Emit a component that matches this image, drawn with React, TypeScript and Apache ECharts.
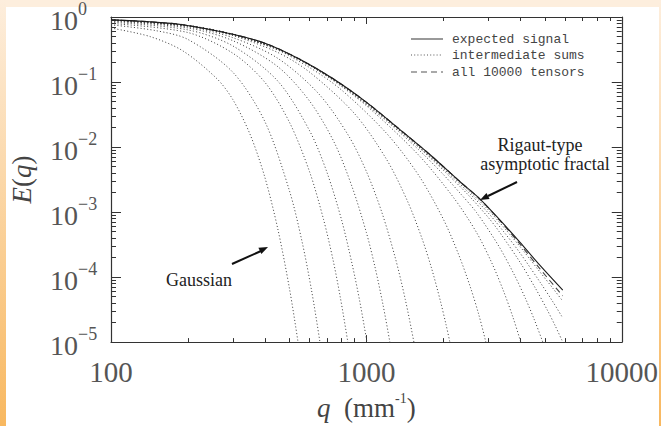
import React, { useEffect, useRef } from "react";
import * as echarts from "echarts";

// ---- data (q in mm^-1, values are log10 E(q)) ----
const qMajorTicks = [100, 1000, 10000];
const qMinorTicks = [200, 300, 400, 500, 600, 700, 800, 900, 2000, 3000, 4000, 5000, 6000, 7000, 8000, 9000];
const eMajorTicks = [1e-5, 1e-4, 1e-3, 1e-2, 1e-1, 1];
const eMinorTicks = [
  2e-5, 3e-5, 4e-5, 5e-5, 6e-5, 7e-5, 8e-5, 9e-5,
  2e-4, 3e-4, 4e-4, 5e-4, 6e-4, 7e-4, 8e-4, 9e-4,
  2e-3, 3e-3, 4e-3, 5e-3, 6e-3, 7e-3, 8e-3, 9e-3,
  2e-2, 3e-2, 4e-2, 5e-2, 6e-2, 7e-2, 8e-2, 9e-2,
  2e-1, 3e-1, 4e-1, 5e-1, 6e-1, 7e-1, 8e-1, 9e-1,
];

const expectedSignal = [
  [100, -0.044], [142, -0.074], [191, -0.118], [300, -0.266], [408, -0.414], [549, -0.651],
  [739, -0.947], [1005, -1.317], [1353, -1.731], [1772, -2.115], [2322, -2.53], [2781, -2.796],
  [3331, -3.121], [3989, -3.462], [4776, -3.817], [5876, -4.201],
];
const allTensors = [
  [100, -0.044], [142, -0.074], [191, -0.118], [300, -0.266], [408, -0.414], [549, -0.651],
  [739, -0.947], [1005, -1.317], [1353, -1.731], [1772, -2.115], [2322, -2.53], [2781, -2.8],
  [3331, -3.13], [3989, -3.49], [4776, -3.87], [5876, -4.29],
];

const partialSum01 = [[100, -0.17], [142, -0.3], [191, -0.52], [260, -0.95], [300, -1.27], [350, -1.8], [400, -2.46], [450, -3.26], [500, -4.18], [540, -5.0], [565, -5.56]];
const partialSum02 = [[100, -0.12], [150, -0.21], [200, -0.345], [300, -0.85], [400, -1.605], [500, -2.675], [560, -3.456], [610, -4.205], [658, -5.0], [690, -5.57]];
const partialSum03 = [[100, -0.1], [200, -0.239], [300, -0.557], [400, -1.002], [500, -1.621], [600, -2.387], [680, -3.117], [740, -3.731], [790, -4.305], [846, -5.0], [880, -5.45]];
const partialSum04 = [[100, -0.08], [200, -0.198], [300, -0.445], [450, -0.986], [600, -1.753], [700, -2.383], [800, -3.124], [880, -3.807], [940, -4.353], [1005, -5.0], [1045, -5.43]];
const partialSum05 = [[100, -0.065], [200, -0.169], [300, -0.364], [450, -0.764], [600, -1.296], [750, -1.937], [880, -2.617], [1000, -3.315], [1080, -3.84], [1160, -4.413], [1236, -5.0], [1290, -5.44]];
const partialSum06 = [[100, -0.055], [200, -0.152], [300, -0.318], [450, -0.636], [650, -1.179], [850, -1.82], [1000, -2.375], [1150, -3.006], [1300, -3.715], [1420, -4.343], [1535, -5.0], [1600, -5.4]];
const partialSum07 = [[100, -0.05], [200, -0.14], [300, -0.286], [450, -0.546], [600, -0.85], [900, -1.489], [1200, -2.191], [1450, -2.835], [1650, -3.403], [1800, -3.865], [1950, -4.371], [2050, -4.729], [2123, -5.0], [2210, -5.34]];
const partialSum08 = [[100, -0.045], [200, -0.136], [400, -0.418], [600, -0.779], [800, -1.124], [1200, -1.79], [1600, -2.431], [2000, -3.107], [2300, -3.658], [2550, -4.147], [2750, -4.566], [2937, -5.0], [3050, -5.28]];
const partialSum09 = [[100, -0.044], [200, -0.134], [300, -0.268], [500, -0.584], [700, -0.911], [1000, -1.364], [1600, -2.122], [2200, -2.783], [2700, -3.314], [3100, -3.784], [3450, -4.223], [3750, -4.619], [4024, -5.0], [4200, -5.255]];
const partialSum10 = [[100, -0.044], [200, -0.133], [300, -0.267], [450, -0.495], [600, -0.745], [800, -1.054], [1200, -1.599], [1600, -2.039], [2000, -2.421], [2322, -2.705], [2700, -3.007], [3300, -3.524], [3800, -3.969], [4200, -4.332], [4550, -4.659], [4907, -5.0], [5150, -5.236]];
const partialSum11 = [[100, -0.044], [200, -0.133], [300, -0.266], [450, -0.493], [600, -0.74], [800, -1.047], [1200, -1.58], [1600, -2.001], [2000, -2.355], [2500, -2.733], [3000, -3.082], [3300, -3.293], [4000, -3.774], [4600, -4.177], [5100, -4.5], [5500, -4.757], [5876, -5.0]];
const partialSum12 = [[100, -0.044], [200, -0.133], [300, -0.266], [450, -0.493], [600, -0.74], [800, -1.045], [1000, -1.319], [1500, -1.9], [2000, -2.33], [2500, -2.69], [3000, -3.013], [3500, -3.333], [4000, -3.632], [4800, -4.085], [5400, -4.393], [5876, -4.63]];
const partialSum13 = [[100, -0.044], [200, -0.133], [300, -0.266], [450, -0.492], [600, -0.739], [800, -1.043], [1000, -1.317], [1500, -1.885], [2000, -2.313], [2500, -2.659], [3000, -2.965], [3500, -3.262], [4000, -3.533], [4800, -3.929], [5400, -4.183], [5876, -4.37]];

const partialSums = [
  partialSum01, partialSum02, partialSum03, partialSum04, partialSum05, partialSum06, partialSum07,
  partialSum08, partialSum09, partialSum10, partialSum11, partialSum12, partialSum13,
];

const legendLabels = ["expected signal", "intermediate sums", "all 10000 tensors"];

const toPoints = (arr: number[][]) => arr.map(([q, l]) => [q, Math.pow(10, l)]);

const SERIF = "'Liberation Serif', 'Times New Roman', serif";

export default function App() {
  const ref = useRef<HTMLDivElement>(null);

  useEffect(() => {
    if (!ref.current) return;
    const chart = echarts.init(ref.current, null, { renderer: "svg" });

    const yLabelFmt = (v: number) => {
      const e = Math.round(Math.log10(v));
      return `{b|10}{e|${e === 0 ? "0" : "\u2212" + -e}}`;
    };
    const yRich = {
      b: { fontFamily: SERIF, fontSize: 28, color: "#555", lineHeight: 34, verticalAlign: "bottom" },
      e: { fontFamily: SERIF, fontSize: 18, color: "#555", lineHeight: 18, verticalAlign: "top" },
    };

    const axisLine = { show: true, lineStyle: { color: "#333", width: 1.2 } };
    const tickStyle = { color: "#333", width: 1 };

    const xBase = { type: "log", logBase: 10, min: 100, max: 10000, gridIndex: 0, splitLine: { show: false }, minorTick: { show: false } };
    const yBase = { type: "log", logBase: 10, min: 1e-5, max: 1, gridIndex: 0, splitLine: { show: false }, minorTick: { show: false } };

    const series: any[] = [];
    partialSums.forEach((d, i) => {
      series.push({
        type: "line",
        name: "sum" + i,
        data: toPoints(d),
        showSymbol: false,
        smooth: 0.3,
        silent: true,
        lineStyle: { color: "#4a4a4a", width: 1, type: [1.1, 2.2] },
        z: 2,
      });
    });
    series.push({
      type: "line",
      name: legendLabels[2],
      data: toPoints(allTensors),
      showSymbol: false,
      smooth: 0.3,
      silent: true,
      lineStyle: { color: "#444", width: 1.1, type: [6, 4] },
      z: 3,
    });
    series.push({
      type: "line",
      name: legendLabels[0],
      data: toPoints(expectedSignal),
      showSymbol: false,
      smooth: 0.3,
      silent: true,
      lineStyle: { color: "#1a1a1a", width: 1.1, type: "solid" },
      z: 4,
    });

    const frameGrad = new echarts.graphic.LinearGradient(0, 0, 0, 1, [
      { offset: 0, color: "#fdeedd" },
      { offset: 1, color: "#f8b860" },
    ]);

    const arrowHead = (pts: number[][]) => ({
      type: "polygon",
      shape: { points: pts },
      style: { fill: "#111" },
      silent: true,
    });

    chart.setOption({
      animation: false,
      backgroundColor: "#ffffff",
      grid: { left: 111, right: 39, top: 14, bottom: 74, containLabel: false },
      xAxis: [
        {
          ...xBase,
          position: "bottom",
          axisLine,
          axisTick: { show: true, inside: true, length: 7, lineStyle: tickStyle, customValues: qMajorTicks },
          axisLabel: {
            show: true, customValues: qMajorTicks, margin: 15,
            fontFamily: SERIF, fontSize: 29, color: "#555",
            formatter: (v: number) => String(Math.round(v)),
          },
          name: "{i|q}{r|  (mm}{s|-1}{r|)}",
          nameLocation: "middle",
          nameGap: 43,
          nameTextStyle: {
            rich: {
              i: { fontFamily: SERIF, fontStyle: "italic", fontSize: 27, color: "#444", lineHeight: 30, verticalAlign: "bottom" },
              r: { fontFamily: SERIF, fontSize: 27, color: "#444", lineHeight: 30, verticalAlign: "bottom" },
              s: { fontFamily: SERIF, fontSize: 14, color: "#444", lineHeight: 14, verticalAlign: "top" },
            },
          },
        },
        {
          ...xBase,
          position: "bottom",
          axisLine: { show: false },
          axisTick: { show: true, inside: true, length: 4, lineStyle: tickStyle, customValues: qMinorTicks },
          axisLabel: { show: false },
        },
        {
          ...xBase,
          position: "top",
          axisLine,
          axisTick: { show: true, inside: true, length: 7, lineStyle: tickStyle, customValues: qMajorTicks },
          axisLabel: { show: false },
        },
        {
          ...xBase,
          position: "top",
          axisLine: { show: false },
          axisTick: { show: true, inside: true, length: 4, lineStyle: tickStyle, customValues: qMinorTicks },
          axisLabel: { show: false },
        },
      ],
      yAxis: [
        {
          ...yBase,
          position: "left",
          axisLine,
          axisTick: { show: true, inside: true, length: 10, lineStyle: tickStyle, customValues: eMajorTicks },
          axisLabel: {
            show: true, customValues: eMajorTicks, margin: 61, align: "left",
            formatter: yLabelFmt, rich: yRich,
          },
          name: "{i|E}{r|(}{i|q}{r|)}",
          nameLocation: "middle",
          nameGap: 76,
          nameTextStyle: {
            rich: {
              i: { fontFamily: SERIF, fontStyle: "italic", fontSize: 27, color: "#444" },
              r: { fontFamily: SERIF, fontSize: 27, color: "#444" },
            },
          },
        },
        {
          ...yBase,
          position: "left",
          axisLine: { show: false },
          axisTick: { show: true, inside: true, length: 5, lineStyle: tickStyle, customValues: eMinorTicks },
          axisLabel: { show: false },
        },
        {
          ...yBase,
          position: "right",
          axisLine,
          axisTick: { show: true, inside: true, length: 10, lineStyle: tickStyle, customValues: eMajorTicks },
          axisLabel: { show: false },
        },
        {
          ...yBase,
          position: "right",
          axisLine: { show: false },
          axisTick: { show: true, inside: true, length: 5, lineStyle: tickStyle, customValues: eMinorTicks },
          axisLabel: { show: false },
        },
      ],
      series,
      graphic: [
        { type: "rect", shape: { x: 0, y: 0, width: 661, height: 7 }, style: { fill: "#fdeedd" }, silent: true, z: -1 },
        { type: "rect", shape: { x: 0, y: 0, width: 6, height: 426 }, style: { fill: frameGrad }, silent: true, z: -1 },
        { type: "rect", shape: { x: 659, y: 0, width: 2, height: 426 }, style: { fill: frameGrad }, silent: true, z: -1 },
        // legend
        { type: "line", shape: { x1: 411, y1: 39, x2: 443, y2: 39 }, style: { stroke: "#555", lineWidth: 1.2 }, silent: true },
        { type: "line", shape: { x1: 411, y1: 55, x2: 443, y2: 55 }, style: { stroke: "#555", lineWidth: 1.1, lineDash: [1, 2.2] }, silent: true },
        { type: "line", shape: { x1: 411, y1: 72, x2: 443, y2: 72 }, style: { stroke: "#555", lineWidth: 1.1, lineDash: [6, 4] }, silent: true },
        ...legendLabels.map((t, i) => ({
          type: "text",
          x: 452,
          y: [39, 55, 72][i],
          style: { text: t, fontFamily: "'Liberation Mono', monospace", fontSize: 13, fill: "#444", textVerticalAlign: "middle" },
          silent: true,
        })),
        // Gaussian annotation
        { type: "line", shape: { x1: 232, y1: 264, x2: 261, y2: 251 }, style: { stroke: "#111", lineWidth: 2 }, silent: true },
        arrowHead([[268, 247], [261.4, 254.0], [258.4, 247.7]]),
        { type: "text", x: 199, y: 280, style: { text: "Gaussian", fontFamily: SERIF, fontSize: 18, fill: "#222", textAlign: "center", textVerticalAlign: "middle" }, silent: true },
        // Rigaut annotation
        { type: "line", shape: { x1: 517, y1: 182, x2: 488, y2: 196 }, style: { stroke: "#111", lineWidth: 2 }, silent: true },
        arrowHead([[480, 200], [489.6, 199.1], [486.5, 192.9]]),
        { type: "text", x: 540, y: 145, style: { text: "Rigaut-type", fontFamily: SERIF, fontSize: 18, fill: "#222", textAlign: "center", textVerticalAlign: "middle" }, silent: true },
        { type: "text", x: 545, y: 164, style: { text: "asymptotic fractal", fontFamily: SERIF, fontSize: 18, fill: "#222", textAlign: "center", textVerticalAlign: "middle" }, silent: true },
      ],
    });

    return () => chart.dispose();
  }, []);

  return <div ref={ref} style={{ position: "fixed", left: 0, top: 0, width: 661, height: 426 }} />;
}
